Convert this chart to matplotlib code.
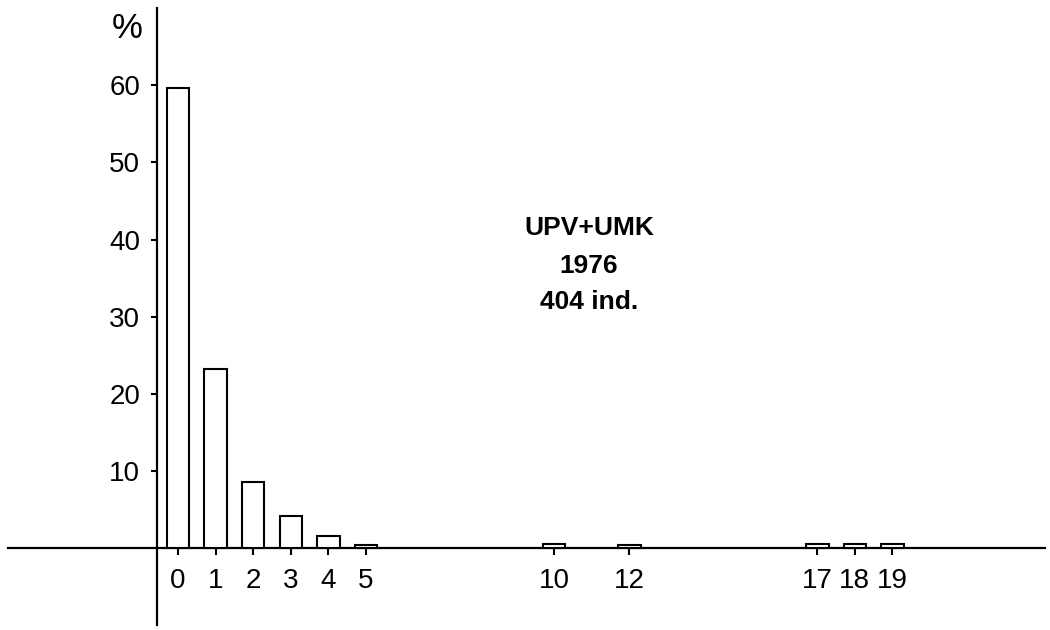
import matplotlib
matplotlib.use("Agg")
import matplotlib.pyplot as plt

classes = [0, 1, 2, 3, 4, 5, 10, 12, 17, 18, 19]
percent = [59.7, 23.3, 8.6, 4.2, 1.6, 0.5, 0.6, 0.5, 0.6, 0.6, 0.6]
yticks = [10, 20, 30, 40, 50, 60]
title_lines = ["UPV+UMK", "1976", "404 ind."]

plt.rcParams['font.family'] = ['Liberation Sans', 'DejaVu Sans']

fig = plt.figure(figsize=(10.5, 6.3), dpi=100)
ax = fig.add_axes([0, 0, 1, 1])
ax.set_xlim(-4.734, 23.19)
ax.set_ylim(-10.56, 71.05)

ax.bar(classes, percent, width=0.6, facecolor='white', edgecolor='black',
       linewidth=1.5, zorder=3)

for s in ['top', 'right']:
    ax.spines[s].set_visible(False)
ax.spines['left'].set_position(('data', -0.56))
ax.spines['left'].set_bounds(-9.9, 70.0)
ax.spines['bottom'].set_position(('data', 0))
ax.spines['bottom'].set_bounds(-4.52, 23.06)
for s in ['left', 'bottom']:
    ax.spines[s].set_linewidth(1.6)

ax.set_xticks(classes)
ax.set_xticklabels([str(c) for c in classes])
ax.set_yticks(yticks)
ax.set_yticklabels([str(v) for v in yticks])
ax.tick_params(axis='x', direction='out', length=5, width=1.5, pad=9, labelsize=20)
ax.tick_params(axis='y', direction='out', length=4, width=1.5, pad=8, labelsize=20)

ax.text(-1.36, 67.3, "%", ha='center', va='center', fontsize=25)

ys = [41.5, 36.6, 31.9]
for t, y in zip(title_lines, ys):
    ax.text(10.93, y, t, ha='center', va='center', fontsize=19, fontweight='bold')

fig.savefig("out.png", dpi=100)
